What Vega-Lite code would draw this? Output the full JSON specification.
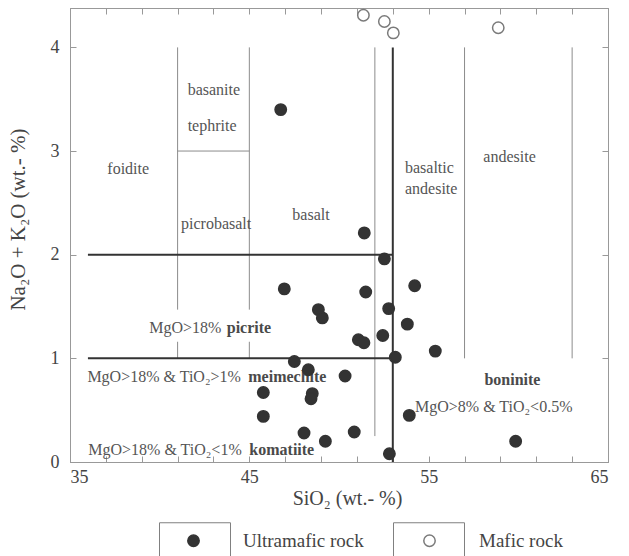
{
  "$schema": "https://vega.github.io/schema/vega-lite/v6.json",
  "width": 538,
  "height": 454,
  "autosize": {"type": "none"},
  "padding": {"left": 70, "top": 8, "right": 21, "bottom": 94},
  "background": "white",
  "config": {
    "view": {"stroke": "#999999", "strokeWidth": 1},
    "font": "Liberation Serif",
    "axis": {
      "grid": false,
      "domainColor": "#999999",
      "tickColor": "#999999",
      "labelColor": "#444444",
      "titleColor": "#444444",
      "labelFont": "Liberation Serif",
      "titleFont": "Liberation Serif",
      "labelFontSize": 18,
      "titleFontSize": 20,
      "titleFontWeight": "normal",
      "tickSize": -6
    }
  },
  "datasets": {
    "points": [
      {"SiO2": 46.75, "alk": 3.40, "type": "Ultramafic rock"},
      {"SiO2": 51.41, "alk": 2.21, "type": "Ultramafic rock"},
      {"SiO2": 52.53, "alk": 1.96, "type": "Ultramafic rock"},
      {"SiO2": 46.95, "alk": 1.67, "type": "Ultramafic rock"},
      {"SiO2": 51.49, "alk": 1.64, "type": "Ultramafic rock"},
      {"SiO2": 54.22, "alk": 1.70, "type": "Ultramafic rock"},
      {"SiO2": 48.85, "alk": 1.47, "type": "Ultramafic rock"},
      {"SiO2": 49.07, "alk": 1.39, "type": "Ultramafic rock"},
      {"SiO2": 52.77, "alk": 1.48, "type": "Ultramafic rock"},
      {"SiO2": 53.81, "alk": 1.33, "type": "Ultramafic rock"},
      {"SiO2": 52.44, "alk": 1.22, "type": "Ultramafic rock"},
      {"SiO2": 51.08, "alk": 1.18, "type": "Ultramafic rock"},
      {"SiO2": 51.39, "alk": 1.15, "type": "Ultramafic rock"},
      {"SiO2": 53.14, "alk": 1.01, "type": "Ultramafic rock"},
      {"SiO2": 55.37, "alk": 1.07, "type": "Ultramafic rock"},
      {"SiO2": 47.51, "alk": 0.97, "type": "Ultramafic rock"},
      {"SiO2": 48.29, "alk": 0.89, "type": "Ultramafic rock"},
      {"SiO2": 50.34, "alk": 0.83, "type": "Ultramafic rock"},
      {"SiO2": 45.78, "alk": 0.67, "type": "Ultramafic rock"},
      {"SiO2": 48.51, "alk": 0.66, "type": "Ultramafic rock"},
      {"SiO2": 48.44, "alk": 0.61, "type": "Ultramafic rock"},
      {"SiO2": 45.78, "alk": 0.44, "type": "Ultramafic rock"},
      {"SiO2": 53.92, "alk": 0.45, "type": "Ultramafic rock"},
      {"SiO2": 48.05, "alk": 0.28, "type": "Ultramafic rock"},
      {"SiO2": 50.85, "alk": 0.29, "type": "Ultramafic rock"},
      {"SiO2": 49.24, "alk": 0.20, "type": "Ultramafic rock"},
      {"SiO2": 52.81, "alk": 0.08, "type": "Ultramafic rock"},
      {"SiO2": 59.85, "alk": 0.20, "type": "Ultramafic rock"},
      {"SiO2": 51.36, "alk": 4.31, "type": "Mafic rock"},
      {"SiO2": 52.53, "alk": 4.25, "type": "Mafic rock"},
      {"SiO2": 53.03, "alk": 4.14, "type": "Mafic rock"},
      {"SiO2": 58.88, "alk": 4.19, "type": "Mafic rock"}
    ],
    "thinLines": [
      {"x1": 41, "y1": 4, "x2": 41, "y2": 1.47},
      {"x1": 41, "y1": 1.16, "x2": 41, "y2": 1},
      {"x1": 45, "y1": 4, "x2": 45, "y2": 1.47},
      {"x1": 45, "y1": 1.16, "x2": 45, "y2": 1},
      {"x1": 41, "y1": 3, "x2": 45, "y2": 3},
      {"x1": 52, "y1": 4, "x2": 52, "y2": 0.25},
      {"x1": 57, "y1": 4, "x2": 57, "y2": 1},
      {"x1": 63, "y1": 4, "x2": 63, "y2": 1}
    ],
    "thickLines": [
      {"x1": 53, "y1": 4, "x2": 53, "y2": 0},
      {"x1": 36, "y1": 2, "x2": 53, "y2": 2},
      {"x1": 36, "y1": 1, "x2": 53, "y2": 1}
    ],
    "regionLabels": [
      {"text": "basanite", "x": 41.56, "y": 3.59},
      {"text": "tephrite", "x": 41.56, "y": 3.24},
      {"text": "foidite", "x": 37.08, "y": 2.83},
      {"text": "picrobasalt", "x": 41.19, "y": 2.30},
      {"text": "basalt", "x": 47.40, "y": 2.38},
      {"text": "basaltic", "x": 53.68, "y": 2.84},
      {"text": "andesite", "x": 53.68, "y": 2.63},
      {"text": "andesite", "x": 58.05, "y": 2.94},
      {"text": "MgO>18%", "x": 39.42, "y": 1.29},
      {"text": "MgO>18% & TiO₂>1%", "x": 35.97, "y": 0.82},
      {"text": "MgO>18% & TiO₂<1%", "x": 36.02, "y": 0.12},
      {"text": "MgO>8% & TiO₂<0.5%", "x": 54.24, "y": 0.53}
    ],
    "boldLabels": [
      {"text": "picrite", "x": 43.74, "y": 1.29},
      {"text": "meimechite", "x": 44.94, "y": 0.82},
      {"text": "komatiite", "x": 45.0, "y": 0.12},
      {"text": "boninite", "x": 58.11, "y": 0.79}
    ]
  },
  "layer": [
    {
      "data": {"name": "thinLines"},
      "mark": {"type": "rule", "color": "#8c8c8c", "strokeWidth": 1},
      "encoding": {
        "x": {"field": "x1", "type": "quantitative", "scale": {"domain": [35, 65], "nice": false, "zero": false},
          "axis": {"orient": "bottom", "values": [35,37,39,41,43,45,47,49,51,53,55,57,59,61,63,65],
            "labelExpr": "datum.value % 10 == 5 ? datum.label : ''", "labelPadding": 12,
            "title": "SiO₂  (wt.- %)", "titleX": 277, "titleY": 36, "titleBaseline": "middle", "titleAlign": "center"}},
        "x2": {"field": "x2"},
        "y": {"field": "y1", "type": "quantitative", "scale": {"domain": [0, 4.38], "nice": false},
          "axis": {"orient": "left", "values": [0,1,2,3,4], "labelPadding": 17,
            "title": "Na₂O + K₂O  (wt.- %)", "titleFontSize": 21, "titleX": -52, "titleY": 211, "titleBaseline": "middle", "titleAlign": "center", "titleAngle": 270}},
        "y2": {"field": "y2"}
      }
    },
    {
      "data": {"name": "thickLines"},
      "mark": {"type": "rule", "color": "#333333", "strokeWidth": 2},
      "encoding": {
        "x": {"field": "x1", "type": "quantitative", "scale": {"domain": [35, 65], "nice": false, "zero": false},
          "axis": {"orient": "top", "values": [35,37,39,41,43,45,47,49,51,53,55,57,59,61,63,65], "labels": false, "title": null}},
        "x2": {"field": "x2"},
        "y": {"field": "y1", "type": "quantitative", "scale": {"domain": [0, 4.38], "nice": false},
          "axis": {"orient": "right", "values": [0,1,2,3,4], "labels": false, "title": null}},
        "y2": {"field": "y2"}
      }
    },
    {
      "data": {"name": "regionLabels"},
      "mark": {"type": "text", "align": "left", "baseline": "middle", "font": "Liberation Serif", "fontSize": 16, "color": "#555555"},
      "encoding": {
        "x": {"field": "x", "type": "quantitative", "scale": {"domain": [35, 65], "nice": false, "zero": false}, "axis": null},
        "y": {"field": "y", "type": "quantitative", "scale": {"domain": [0, 4.38], "nice": false}, "axis": null},
        "text": {"field": "text"}
      }
    },
    {
      "data": {"name": "boldLabels"},
      "mark": {"type": "text", "align": "left", "baseline": "middle", "font": "Liberation Serif", "fontSize": 16, "fontWeight": "bold", "color": "#4a4a4a"},
      "encoding": {
        "x": {"field": "x", "type": "quantitative", "scale": {"domain": [35, 65], "nice": false, "zero": false}, "axis": null},
        "y": {"field": "y", "type": "quantitative", "scale": {"domain": [0, 4.38], "nice": false}, "axis": null},
        "text": {"field": "text"}
      }
    },
    {
      "data": {"name": "points"},
      "mark": {"type": "point", "size": 0, "filled": false, "color": "#808080", "opacity": 1, "strokeWidth": 1},
      "encoding": {
        "x": {"field": "SiO2", "type": "quantitative", "scale": {"domain": [35, 65], "nice": false, "zero": false}, "axis": null},
        "y": {"field": "alk", "type": "quantitative", "scale": {"domain": [0, 4.38], "nice": false}, "axis": null},
        "shape": {"field": "type", "type": "nominal", "scale": {"range": ["square", "square"]},
          "legend": {"orient": "none", "legendX": 89, "legendY": 514, "direction": "horizontal", "title": null,
            "symbolSize": 5041, "symbolFillColor": "transparent", "symbolStrokeColor": "#808080", "symbolStrokeWidth": 1,
            "labelExpr": "''", "labelOffset": 0, "columnPadding": 158}}
      }
    },
    {
      "data": {"name": "points"},
      "mark": {"type": "point", "shape": "circle", "size": 130, "filled": true, "opacity": 1, "strokeWidth": 1.5},
      "encoding": {
        "x": {"field": "SiO2", "type": "quantitative", "scale": {"domain": [35, 65], "nice": false, "zero": false}, "axis": null},
        "y": {"field": "alk", "type": "quantitative", "scale": {"domain": [0, 4.38], "nice": false}, "axis": null},
        "fill": {"field": "type", "type": "nominal",
          "scale": {"domain": ["Ultramafic rock", "Mafic rock"], "range": ["#333333", "transparent"]},
          "legend": {"orient": "none", "legendX": 114, "legendY": 523, "direction": "horizontal", "title": null,
            "symbolType": "circle", "symbolSize": 130, "symbolStrokeWidth": 1.5,
            "labelFont": "Liberation Serif", "labelFontSize": 19, "labelColor": "#444444",
            "labelOffset": 40, "columnPadding": 56}},
        "stroke": {"field": "type", "type": "nominal",
          "scale": {"domain": ["Ultramafic rock", "Mafic rock"], "range": ["#333333", "#7a7a7a"]},
          "legend": {"orient": "none", "legendX": 114, "legendY": 523, "direction": "horizontal", "title": null,
            "symbolType": "circle", "symbolSize": 130, "symbolStrokeWidth": 1.5,
            "labelFont": "Liberation Serif", "labelFontSize": 19, "labelColor": "#444444",
            "labelOffset": 40, "columnPadding": 56}}
      }
    }
  ],
  "resolve": {"axis": {"x": "independent", "y": "independent"}}
}
